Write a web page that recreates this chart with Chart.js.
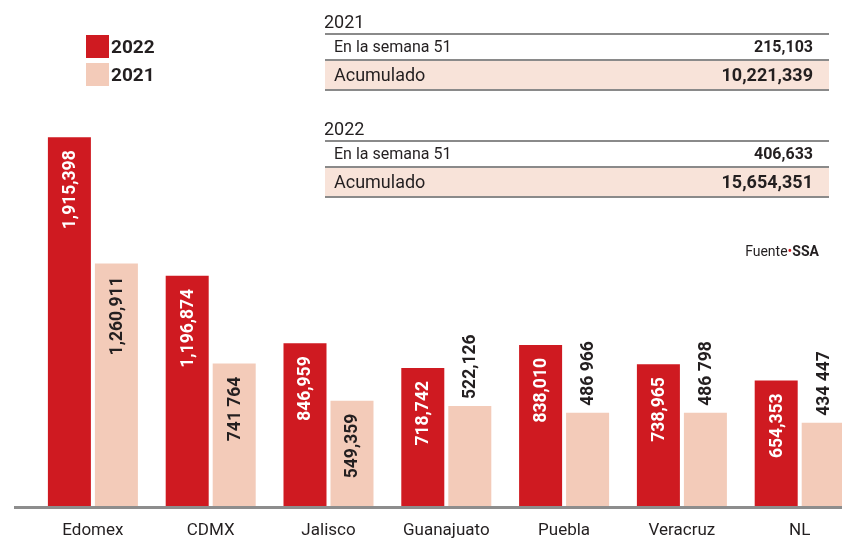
<!DOCTYPE html>
<html lang="es">
<head>
<meta charset="UTF-8">
<title>Casos por estado</title>
<script src="https://cdn.jsdelivr.net/npm/chart.js"></script>
<style>
  html, body { margin: 0; padding: 0; background: #fff; }
  body { width: 842px; height: 541px; overflow: hidden; position: relative; font-family: Roboto, sans-serif; color: #231f20; }
  #chartBox { position: absolute; left: 0; top: 0; width: 860px; height: 560px; }
  .legend { position: absolute; left: 86px; font-weight: bold; font-size: 19px; line-height: 23px; }
  .legend span { display: inline-block; width: 23px; height: 23px; vertical-align: top; margin-right: 2px; }
  .block { position: absolute; left: 325px; width: 504px; }
  .block .title { height: 22px; line-height: 22px; font-size: 18px; margin-left: -1px; }
  .block .row { display: flex; justify-content: space-between; padding: 0 16px 0 9px; border-top: 2px solid #8a8a8a; }
  .block .r1 { height: 24px; line-height: 24px; font-size: 16px; }
  .block .r2 { height: 28px; line-height: 28px; font-size: 18px; background: #f8e3d9; border-bottom: 2px solid #8a8a8a; }
  .block b { font-weight: bold; }
  .source { position: absolute; right: 23px; top: 243px; font-size: 14px; }
  .source i { font-style: normal; color: #cf1a21; }
</style>
</head>
<body>
<div id="chartBox"><canvas id="casos" width="860" height="560"></canvas></div>
<div class="legend" style="top:35px"><span style="background:#cf1a21"></span>2022</div>
<div class="legend" style="top:63px"><span style="background:#f3cbb9"></span>2021</div>
<div id="tables"></div>
<div class="source">Fuente<i>•</i><b>SSA</b></div>

<script>
// datos por estado
var categories = ['Edomex', 'CDMX', 'Jalisco', 'Guanajuato', 'Puebla', 'Veracruz', 'NL'];
var values2022 = [1915398, 1196874, 846959, 718742, 838010, 738965, 654353];
var values2021 = [1260911, 741764, 549359, 522126, 486966, 486798, 434447];
var labels2022 = ['1,915,398', '1,196,874', '846,959', '718,742', '838,010', '738,965', '654,353'];
var labels2021 = ['1,260,911', '741 764', '549,359', '522,126', '486 966', '486 798', '434 447'];

// resumen nacional
var summaryYears = ['2021', '2022'];
var weekLabel = 'En la semana 51';
var weekValues = ['215,103', '406,633'];
var totalLabel = 'Acumulado';
var totalValues = ['10,221,339', '15,654,351'];

var RED = '#cf1a21';
var PEACH = '#f3cbb9';

// tablas de resumen
var tables = document.getElementById('tables');
summaryYears.forEach(function(year, i) {
    var div = document.createElement('div');
    div.className = 'block';
    div.style.top = (11 + i * 107) + 'px';
    div.innerHTML = '<div class="title">' + year + '</div>' +
        '<div class="row r1"><span>' + weekLabel + '</span><b>' + weekValues[i] + '</b></div>' +
        '<div class="row r2"><span>' + totalLabel + '</span><b>' + totalValues[i] + '</b></div>';
    tables.appendChild(div);
});

// linea base gris + etiquetas verticales
var barLabels = {
    id: 'barLabels',
    afterDatasetsDraw: function(chart) {
        var ctx = chart.ctx;
        var area = chart.chartArea;
        ctx.save();
        ctx.strokeStyle = '#8d8d8d';
        ctx.lineWidth = 3;
        ctx.beginPath();
        ctx.moveTo(14, area.bottom + 1);
        ctx.lineTo(chart.width, area.bottom + 1);
        ctx.stroke();

        ctx.font = 'bold 17.5px Roboto';
        ctx.textBaseline = 'middle';
        chart.data.datasets.forEach(function(ds, di) {
            var meta = chart.getDatasetMeta(di);
            meta.data.forEach(function(bar, i) {
                var text = ds.valueLabels[i];
                var inside = ds.data[i] >= 540000;
                ctx.save();
                ctx.translate(bar.x, bar.y);
                ctx.rotate(-Math.PI / 2);
                if (inside) {
                    ctx.textAlign = 'right';
                    ctx.fillStyle = di === 0 ? '#ffffff' : '#231f20';
                    ctx.fillText(text, -13, 1);
                } else {
                    ctx.textAlign = 'left';
                    ctx.fillStyle = '#231f20';
                    ctx.fillText(text, 7, 1);
                }
                ctx.restore();
            });
        });
        ctx.restore();
    }
};

var ctx = document.getElementById('casos').getContext('2d');
var chart = new Chart(ctx, {
    type: 'bar',
    data: {
        labels: categories,
        datasets: [{
            label: '2022',
            data: values2022,
            valueLabels: labels2022,
            backgroundColor: RED
        }, {
            label: '2021',
            data: values2021,
            valueLabels: labels2021,
            backgroundColor: PEACH
        }]
    },
    options: {
        responsive: false,
        animation: false,
        devicePixelRatio: 1,
        categoryPercentage: 0.798,
        barPercentage: 0.915,
        layout: { padding: { top: 121, left: 34, right: 1.4, bottom: 6 } },
        plugins: {
            legend: { display: false },
            tooltip: { enabled: false }
        },
        scales: {
            x: {
                grid: { display: false, drawTicks: false },
                border: { display: false },
                ticks: { color: '#231f20', font: { family: 'Roboto', size: 17 }, padding: 13.5 }
            },
            y: {
                display: false,
                min: 0,
                max: 2000000
            }
        }
    },
    plugins: [barLabels]
});
</script>
</body>
</html>
